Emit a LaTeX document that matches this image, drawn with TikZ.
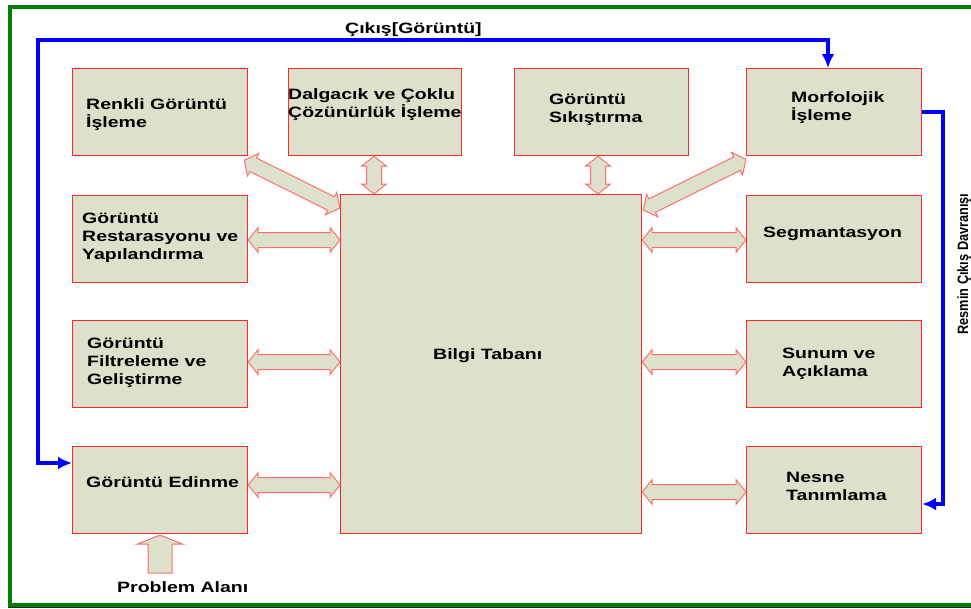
\documentclass[tikz,border=0pt]{standalone}
\usepackage{fontspec}
\setmainfont{Liberation Sans}[FakeStretch=1.3]
\newfontfamily\narrowfont{Liberation Sans}[FakeStretch=0.85]
\usetikzlibrary{calc,arrows.meta}
\definecolor{boxfill}{RGB}{221,224,203}
\definecolor{boxred}{RGB}{255,40,40}
\definecolor{arrred}{RGB}{255,110,110}
\definecolor{frameg}{RGB}{0,128,0}
\definecolor{flowblue}{RGB}{0,0,255}
\newcommand{\blockarr}[2]{%
\filldraw[blockarrow] (#1)
 -- ($(#1)!10pt!(#2)!12.5pt!90:(#2)$)
 -- ($(#1)!10pt!(#2)!7.5pt!90:(#2)$)
 -- ($(#2)!10pt!(#1)!7.5pt!-90:(#1)$)
 -- ($(#2)!10pt!(#1)!12.5pt!-90:(#1)$)
 -- (#2)
 -- ($(#2)!10pt!(#1)!12.5pt!90:(#1)$)
 -- ($(#2)!10pt!(#1)!7.5pt!90:(#1)$)
 -- ($(#1)!10pt!(#2)!7.5pt!-90:(#2)$)
 -- ($(#1)!10pt!(#2)!12.5pt!-90:(#2)$)
 -- cycle;}
\begin{document}
\begin{tikzpicture}[x=1pt,y=-1pt,
  box/.style={draw=boxred, line width=1.2pt, fill=boxfill, minimum width=175pt,
    minimum height=87pt, anchor=north west, inner sep=0pt},
  lbl/.style={font=\fontsize{15}{18}\selectfont\bfseries, inner sep=0pt,
    anchor=base west, align=left},
  blockarrow/.style={draw=arrred, line width=1pt, fill=boxfill, line join=miter},
  flow/.style={draw=flowblue, line width=3.5pt,
    arrows={-Latex[length=14pt,width=13pt]}}]
\useasboundingbox (0,0) rectangle (971,608);
\clip (0,0) rectangle (971,608);
% frame
\draw[black!85, line width=1.2pt] (8,607.6) -- (980,607.6);
\draw[frameg, line width=4pt] (980,7) -- (9.5,7) -- (9.5,605) -- (980,605);
% boxes
\node[box] (renk) at (72,68) {};
\node[box, minimum width=173pt] (dalg) at (288,68) {};
\node[box, minimum width=174pt] (sik) at (514,68) {};
\node[box] (morf) at (746,68) {};
\node[box] (rest) at (72,195) {};
\node[box] (filt) at (72,320) {};
\node[box] (edin) at (72,446) {};
\node[box] (seg) at (746,195) {};
\node[box] (sun) at (746,320) {};
\node[box] (nes) at (746,446) {};
\node[box, minimum width=301pt, minimum height=339pt] (bilgi) at (340,194) {};
% texts (base = baseline of last line)
\node[lbl] (renkT) at (86,127) {Renkli Görüntü\\İşleme};
\node[lbl] (dalgT) at (288,117) {Dalgacık ve Çoklu\\Çözünürlük İşleme};
\node[lbl] (sikT) at (549,122) {Görüntü\\Sıkıştırma};
\node[lbl] (morfT) at (791,120) {Morfolojik\\İşleme};
\node[lbl] (restT) at (82,259) {Görüntü\\Restarasyonu ve\\Yapılandırma};
\node[lbl] (filtT) at (87,384) {Görüntü\\Filtreleme ve\\Geliştirme};
\node[lbl] (edinT) at (86,487) {Görüntü Edinme};
\node[lbl] (segT) at (763,237) {Segmantasyon};
\node[lbl] (sunT) at (782,376) {Sunum ve\\Açıklama};
\node[lbl] (nesT) at (786,500) {Nesne\\Tanımlama};
\node[lbl] (bilgiT) at (433,359) {Bilgi Tabanı};
\node[lbl] (cikisT) at (345,33) {Çıkış[Görüntü]};
\node[lbl] (probT) at (117,592) {Problem Alanı};
\node[inner sep=0pt, anchor=base, rotate=90,
  font=\narrowfont\fontsize{15}{18}\selectfont\bfseries] (resmT) at (968,264)
  {Resmin Çıkış Davranışı};
% block arrow end points
\coordinate (a1) at (rest.east |- 0,240);  \coordinate (b1) at (bilgi.west |- 0,240);
\coordinate (a2) at (filt.east |- 0,362);  \coordinate (b2) at (bilgi.west |- 0,362);
\coordinate (a3) at (edin.east |- 0,485);  \coordinate (b3) at (bilgi.west |- 0,485);
\coordinate (a4) at (bilgi.east |- 0,240); \coordinate (b4) at (seg.west |- 0,240);
\coordinate (a5) at (bilgi.east |- 0,362); \coordinate (b5) at (sun.west |- 0,362);
\coordinate (a6) at (bilgi.east |- 0,492); \coordinate (b6) at (nes.west |- 0,492);
\coordinate (a7) at (dalg.south -| 374,0); \coordinate (b7) at (bilgi.north -| 374,0);
\coordinate (a8) at (sik.south -| 598,0);  \coordinate (b8) at (bilgi.north -| 598,0);
\coordinate (a9) at ($(renk.south east)+(-4,4)$);  \coordinate (b9) at ($(bilgi.north west)+(0,14)$);
\coordinate (a10) at ($(morf.south west)+(0,3)$); \coordinate (b10) at ($(bilgi.north east)+(1,16)$);
\blockarr{a1}{b1}
\blockarr{a2}{b2}
\blockarr{a3}{b3}
\blockarr{a4}{b4}
\blockarr{a5}{b5}
\blockarr{a6}{b6}
\blockarr{a7}{b7}
\blockarr{a8}{b8}
\blockarr{a9}{b9}
\blockarr{a10}{b10}
% problem area arrow
\coordinate (pTip) at ($(edin.south west)+(88,1)$);
\filldraw[blockarrow] (pTip) -- ++(23,9) -- ++(-11,0) -- ++(0,29) -- ++(-24,0)
  -- ++(0,-29) -- ++(-11,0) -- cycle;
% blue feedback lines
\coordinate (edinIn) at ($(edin.north west)+(0,17)$);
\coordinate (morfIn) at (morf.north -| 828,0);
\coordinate (morfOut) at (morf.east |- 0,112);
\coordinate (nesIn) at (nes.east |- 0,504);
\draw[flow, arrows={Latex[length=14pt,width=13pt]-Latex[length=14pt,width=13pt]}]
  (edinIn) -- (38,463) -- (38,40) -- (828,40) -- (morfIn);
\draw[flow] (morfOut) -- (943,112) -- (943,504) -- (nesIn);
\end{tikzpicture}
\end{document}
